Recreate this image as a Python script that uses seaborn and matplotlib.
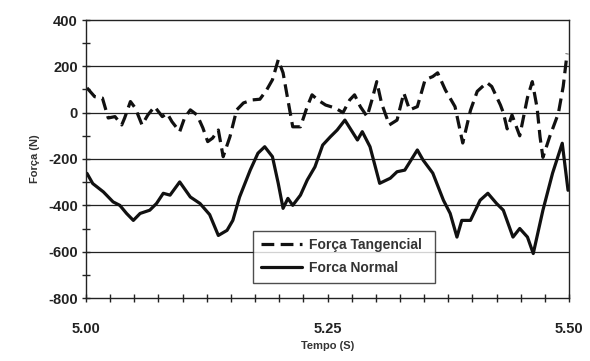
import matplotlib
matplotlib.use("Agg")
import matplotlib.pyplot as plt
import seaborn as sns
import pandas as pd
from matplotlib.ticker import MultipleLocator

# ---- data ----
t_normal = [5.001, 5.007, 5.018, 5.028, 5.035, 5.042, 5.049, 5.056, 5.066, 5.073,
            5.080, 5.087, 5.097, 5.108, 5.118, 5.128, 5.137, 5.146, 5.152, 5.159,
            5.170, 5.178, 5.185, 5.193, 5.199, 5.204, 5.209, 5.214, 5.222, 5.229,
            5.237, 5.245, 5.253, 5.260, 5.268, 5.281, 5.286, 5.294, 5.304, 5.315,
            5.322, 5.330, 5.343, 5.349, 5.359, 5.370, 5.377, 5.384, 5.389, 5.398,
            5.408, 5.416, 5.425, 5.432, 5.442, 5.449, 5.457, 5.463, 5.473, 5.483,
            5.493, 5.499]
f_normal = [-262, -306, -342, -385, -400, -435, -465, -435, -421, -392,
            -348, -356, -299, -364, -392, -440, -530, -508, -465, -364,
            -248, -175, -147, -190, -305, -413, -370, -400, -356, -291,
            -234, -140, -104, -75, -32, -118, -82, -147, -305, -283,
            -255, -248, -161, -205, -261, -378, -435, -537, -465, -465,
            -378, -348, -392, -421, -537, -500, -537, -608, -421, -261,
            -132, -335]

t_tang = [5.001, 5.009, 5.017, 5.023, 5.030, 5.037, 5.040, 5.046, 5.051, 5.058,
          5.064, 5.071, 5.079, 5.084, 5.089, 5.097, 5.102, 5.108, 5.115, 5.121,
          5.126, 5.131, 5.137, 5.142, 5.149, 5.156, 5.163, 5.172, 5.180, 5.187,
          5.193, 5.199, 5.204, 5.209, 5.214, 5.222, 5.229, 5.234, 5.240, 5.248,
          5.258, 5.266, 5.273, 5.278, 5.284, 5.291, 5.296, 5.301, 5.306, 5.314,
          5.322, 5.329, 5.335, 5.343, 5.348, 5.351, 5.359, 5.364, 5.372, 5.382,
          5.390, 5.398, 5.405, 5.415, 5.420, 5.429, 5.432, 5.436, 5.441, 5.449,
          5.457, 5.462, 5.467, 5.470, 5.473, 5.480, 5.489, 5.494, 5.498]
f_tang = [107, 69, 63, -23, -17, -53, -23, 48, 20, -53,
          -10, 26, -17, -3, -39, -82, -23, 12, -10, -66,
          -125, -110, -75, -190, -104, 12, 42, 55, 58, 98,
          142, 228, 172, 55, -61, -61, 26, 77, 55, 33,
          20, 0, 55, 77, 26, -17, 55, 134, 40, -53,
          -32, 85, 12, 26, 98, 142, 156, 172, 98, 26,
          -131, 10, 92, 130, 113, 33, 0, -70, -10, -100,
          65, 134, 20, -104, -193, -104, -3, 113, 255]

series_names = ["Força Tangencial", "Forca Normal"]
x_ticks = [5.00, 5.25, 5.50]
x_tick_labels = ["5.00", "5.25", "5.50"]
y_ticks = [-800, -600, -400, -200, 0, 200, 400]

df = pd.concat([
    pd.DataFrame({"Tempo": t_tang, "Forca": f_tang, "Serie": series_names[0]}),
    pd.DataFrame({"Tempo": t_normal, "Forca": f_normal, "Serie": series_names[1]}),
], ignore_index=True)

sns.set_style("white")
plt.rcParams["font.family"] = ["Liberation Sans", "DejaVu Sans"]
plt.rcParams["axes.unicode_minus"] = False

fig = plt.figure(figsize=(5.90, 3.61), dpi=100)
ax = fig.add_axes([86 / 590, 1 - 298 / 361, (569 - 86) / 590, (298 - 20) / 361])

sns.lineplot(data=df, x="Tempo", y="Forca", hue="Serie", style="Serie",
             palette={series_names[0]: "#111111", series_names[1]: "#111111"},
             dashes={series_names[0]: (4, 2), series_names[1]: ""},
             linewidth=2.3, sort=False, estimator=None, ax=ax, legend=True)

ax.set_xlim(5.0, 5.5)
ax.set_ylim(-800, 400)
ax.set_xticks(x_ticks)
ax.set_xticklabels(x_tick_labels)
ax.set_yticks(y_ticks)
ax.xaxis.set_minor_locator(MultipleLocator(0.025))
ax.yaxis.set_minor_locator(MultipleLocator(100))

ax.grid(False)
for yv in y_ticks[1:-1]:
    ax.axhline(yv, color="#222222", lw=0.9, zorder=0)

for side in ["left", "bottom", "right", "top"]:
    ax.spines[side].set_visible(True)
    ax.spines[side].set_color("#222222")
    ax.spines[side].set_linewidth(1.0)

ax.tick_params(axis="both", which="both", direction="inout", color="#222222", width=1.0,
               bottom=True, left=True, right=False, top=False, length=6)
ax.tick_params(axis="x", which="major", pad=14, labelsize=10.5, labelcolor="#222222")
ax.tick_params(axis="y", which="major", pad=3, labelsize=10.5, labelcolor="#222222")
for lab in ax.get_xticklabels() + ax.get_yticklabels():
    lab.set_fontweight("bold")

ax.set_xlabel("Tempo (S)", fontsize=8, fontweight="bold", color="#333333", labelpad=4)
ax.set_ylabel("Força (N)", fontsize=8, fontweight="bold", color="#333333", labelpad=6)

leg = ax.legend(loc="lower left", bbox_to_anchor=(0.346, 0.054, 0.376, 0.191),
                mode="expand", frameon=True, fancybox=False, fontsize=10,
                handlelength=3.0, borderaxespad=0, borderpad=0.55, labelspacing=0.65,
                handletextpad=0.5)
leg.get_frame().set_edgecolor("#222222")
leg.get_frame().set_linewidth(1.0)
for txt in leg.get_texts():
    txt.set_fontweight("bold")
    txt.set_color("#333333")

fig.savefig("out.png", dpi=100, facecolor="white")
